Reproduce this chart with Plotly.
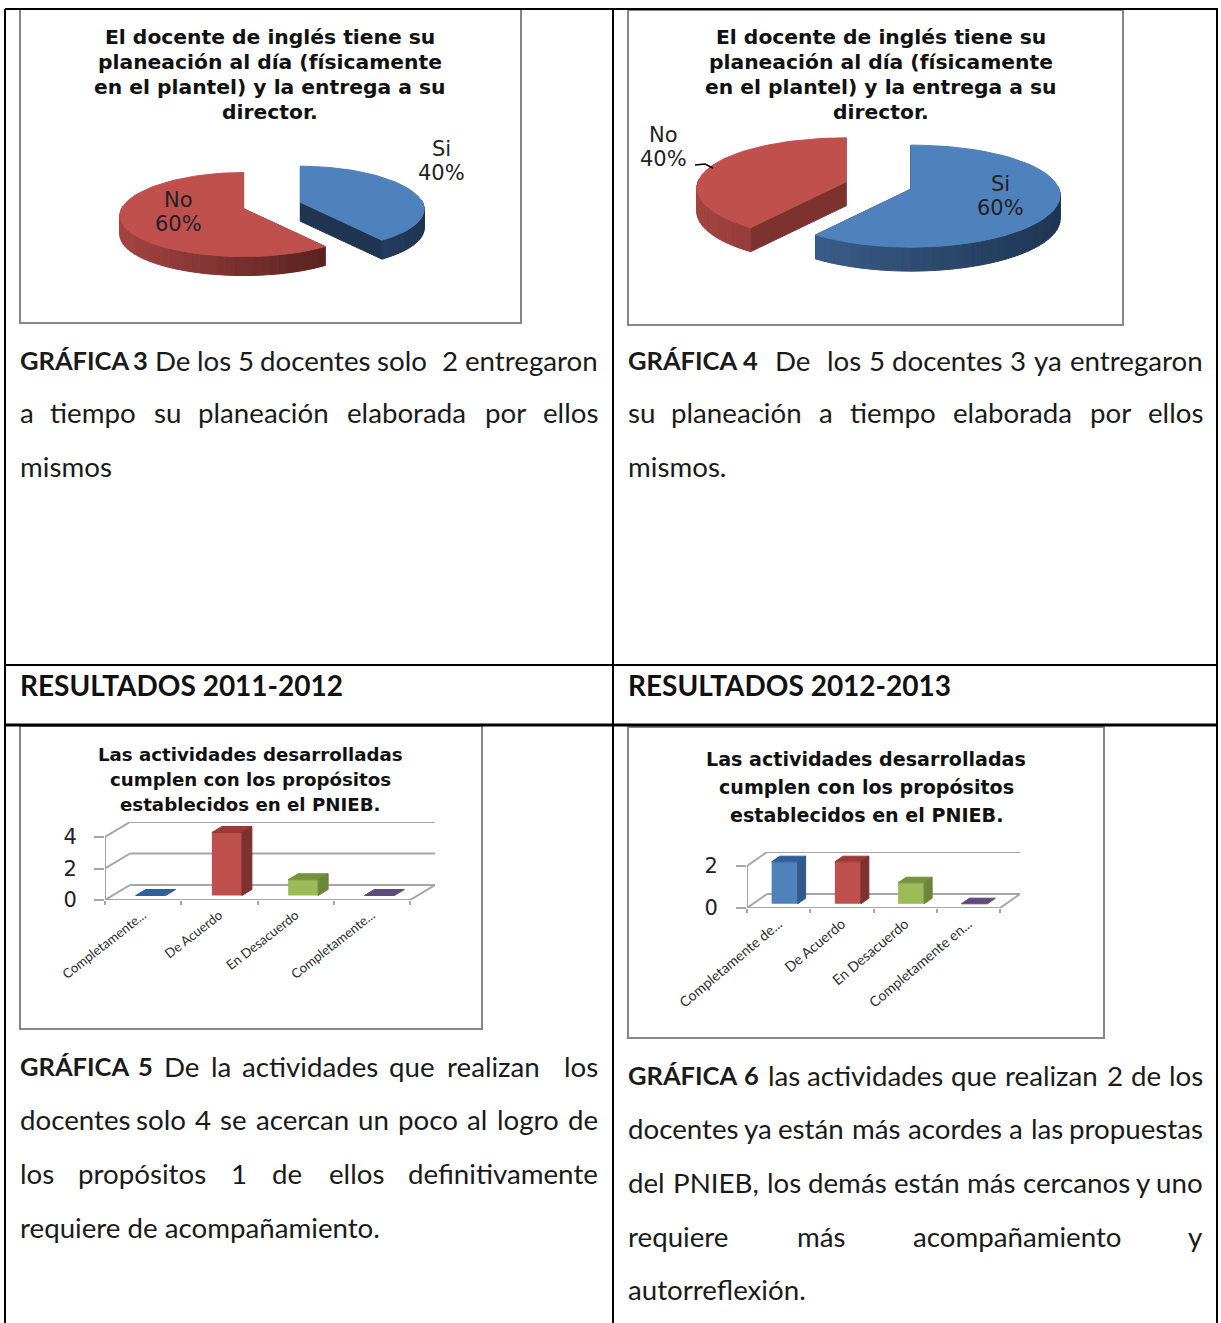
import math
import plotly.graph_objects as go

W, H = 1221, 1323

# pie data
pie_labels_3 = ["Si", "No"]
pie_values_3 = [40, 60]
pie_labels_4 = ["Si", "No"]
pie_values_4 = [60, 40]

# bar data
bar_categories_5 = ["Completamente...", "De Acuerdo", "En Desacuerdo", "Completamente..."]
bar_values_5 = [0, 4, 1, 0]
bar_ticks_5 = [0, 2, 4]
bar_categories_6 = ["Completamente de...", "De Acuerdo", "En Desacuerdo", "Completamente en..."]
bar_values_6 = [2, 2, 1, 0]
bar_ticks_6 = [0, 2]

# document text
title_pie = ["El docente de inglés tiene su", "planeación al día (físicamente",
             "en el plantel) y la entrega a su", "director."]
title_bar = ["Las actividades desarrolladas", "cumplen con los propósitos",
             "establecidos en el PNIEB."]
header_left = "RESULTADOS 2011-2012"
header_right = "RESULTADOS 2012-2013"
text_3 = ["GRÁFICA 3 De los 5 docentes solo  2 entregaron",
          "a tiempo su planeación elaborada por ellos", "mismos"]
text_4 = ["GRÁFICA 4  De  los 5 docentes 3 ya entregaron",
          "su planeación a tiempo elaborada por ellos", "mismos."]
text_5 = ["GRÁFICA 5 De la actividades que realizan  los",
          "docentes solo 4 se acercan un poco al logro de",
          "los propósitos 1 de ellos definitivamente",
          "requiere de acompañamiento."]
text_6 = ["GRÁFICA 6 las actividades que realizan 2 de los",
          "docentes ya están más acordes a las propuestas",
          "del PNIEB, los demás están más cercanos y uno",
          "requiere más acompañamiento y", "autorreflexión."]

BLUE = ("#4F81BD", "#3F6594", "#1F3552")
RED = ("#C0504D", "#A34442", "#4A1B19")
BAR_FRONT = ["#4F81BD", "#C0504D", "#9BBB59", "#8064A2"]
BAR_TOP = ["#2F6099", "#9C3A37", "#76923C", "#604A7B"]
BAR_SIDE = ["#2F5A8C", "#7D322F", "#6B8539", "#4F3D66"]
FRAME = "#868686"
GRID = "#A6A6A6"
BODY_SIZE = 27.7
BOLD_SIZE = 25.5

CALIBRI = dict(a=.479, b=.525, c=.423, d=.525, e=.498, f=.305, g=.471, h=.525, i=.229, j=.239,
               k=.455, l=.229, m=.799, n=.525, o=.527, p=.525, q=.525, r=.349, s=.391, t=.335,
               u=.525, v=.452, w=.715, x=.433, y=.453, z=.395, A=.606, B=.561, C=.529, D=.630,
               E=.488, F=.459, G=.637, H=.631, I=.267, N=.659, P=.532, R=.563)
ACCENTS = str.maketrans("áéíóúñÁ", "aeiounA")


def px(x):
    return x / W


def py(y):
    return 1 - y / H


fig = go.Figure()
annotations = []
shapes = []
axes = {}


def label(text, x, y, size, family="Lato", color="#1a1a1a", bold=False, xanchor="center"):
    annotations.append(dict(text=text, x=px(x), y=py(y), xref="paper", yref="paper", showarrow=False,
                            xanchor=xanchor, yanchor="middle", align="center", borderpad=0,
                            font=dict(family=family, size=size, color=color,
                                      weight="bold" if bold else "normal")))


def word_width(word, em=29.2):
    w = sum(CALIBRI.get(c, .507) for c in word.translate(ACCENTS))
    return w * em


def body_text(lines, ys, x0, x1):
    for i, (line, y) in enumerate(zip(lines, ys)):
        y -= 1
        if i == len(lines) - 1:
            label(line, x0, y, BODY_SIZE, xanchor="left")
            continue
        words = line.split(" ")
        widths = [word_width(w) for w in words]
        gap = (x1 - x0 - sum(widths)) / (len(words) - 1)
        x = x0
        for j, (w, ww) in enumerate(zip(words, widths)):
            if w:
                bold = line.startswith("GRÁFICA") and j < 2
                size = BOLD_SIZE if bold else BODY_SIZE
                if j == 0:
                    label(w, x0, y, size, bold=bold, xanchor="left")
                elif j == len(words) - 1:
                    label(w, x1, y, size, bold=bold, xanchor="right")
                else:
                    label(w, x + ww / 2, y, size, bold=bold)
            x += ww + gap


def frame(x0, y0, x1, y1):
    shapes.append(dict(type="rect", xref="paper", yref="paper", x0=px(x0), x1=px(x1), y0=py(y0), y1=py(y1),
                       line=dict(color=FRAME, width=2), fillcolor="white", layer="below"))


def rule(x0, y0, x1, y1, width=2):
    shapes.append(dict(type="line", xref="paper", yref="paper", x0=px(x0), x1=px(x1), y0=py(y0), y1=py(y1),
                       line=dict(color="black", width=width), layer="above"))


def new_axes(n, x0, x1, y0, y1, xrange, yrange):
    axes[f"xaxis{n}"] = dict(domain=[px(x0), px(x1)], range=xrange, anchor=f"y{n}", showgrid=False, automargin=False,
                             zeroline=False, showticklabels=False, showline=False, ticks="", fixedrange=True)
    axes[f"yaxis{n}"] = dict(domain=[py(y1), py(y0)], range=yrange, anchor=f"x{n}", showgrid=False, automargin=False,
                             zeroline=False, showticklabels=False, showline=False, ticks="", fixedrange=True)


def poly(n, xs, ys, color):
    fig.add_trace(go.Scatter(x=xs + xs[:1], y=ys + ys[:1], xaxis=f"x{n}", yaxis=f"y{n}", mode="lines", fill="toself",
                             fillcolor=color, line=dict(color=color, width=1), hoverinfo="skip",
                             showlegend=False, cliponaxis=False))


def mix(c1, c2, t):
    a = [int(c1[i:i + 2], 16) for i in (1, 3, 5)]
    b = [int(c2[i:i + 2], 16) for i in (1, 3, 5)]
    return "#%02X%02X%02X" % tuple(round(p + (q - p) * t) for p, q in zip(a, b))


def pie_3d(n, values, colors, box, center, a, b, kx, ky, depth, explode, cut_colors):
    # unit ellipse on axes whose range gives it its oblique shape
    x0, y0, x1, y1 = box
    cx, cy = center
    new_axes(n, x0, x1, y0, y1, [(x0 - cx) / a, (x1 - cx) / a], [(cy - y1) / b, (cy - y0) / b])
    d = depth / b

    def pt(t):
        s, c = math.sin(t), math.cos(t)
        return s * (1 - kx * c), c * (1 - ky * c)

    total = sum(values)
    start = 0.0
    for v, col, cut in zip(values, colors, cut_colors):
        sweep = 2 * math.pi * v / total
        end = start + sweep
        mid = start + sweep / 2
        ox, oy = explode * math.sin(mid), explode * math.cos(mid)
        steps = [start + sweep * i / 60 for i in range(61)]
        arc = [pt(t) for t in steps]
        # cut faces
        for t in (start, end):
            ex, ey = pt(t)
            poly(n, [ox, ox + ex, ox + ex, ox], [oy, oy + ey, oy + ey - d, oy - d], cut)
        # rim, shaded left to right
        for i in range(60):
            t0, t1 = steps[i], steps[i + 1]
            if math.cos((t0 + t1) / 2) > 0.05:
                continue
            (xa, ya), (xb, yb) = arc[i], arc[i + 1]
            shade = min(1, max(0, ((xa + xb) / 2 + 1) / 2))
            poly(n, [ox + xa, ox + xb, ox + xb, ox + xa], [oy + ya, oy + yb, oy + yb - d, oy + ya - d],
                 mix(col[1], col[2], shade))
        poly(n, [ox] + [ox + p[0] for p in arc], [oy] + [oy + p[1] for p in arc], col[0])
        start = end


def bars_3d(n, categories, values, ticks, x0, x1, y0, unit, dpx, dpy, width, tick_size, angle, y_standoff):
    # x0/x1 front axis in pixels, y0 front zero, unit pixels per value, dpx/dpy wall depth
    cat = (x1 - x0) / len(values)
    dx, dy = dpx / cat, dpy / unit
    top = max(ticks)
    xrange, yrange = [0, len(values) + dx], [0, top + dy]
    new_axes(n, x0, x1 + dpx, y0 - (top * unit + dpy), y0, xrange, yrange)
    axes[f"xaxis{n}"].update(showticklabels=True, tickmode="array",
                             tickvals=[i + .5 for i in range(len(values))], ticktext=categories, tickangle=angle,
                             tickfont=dict(family="Lato", size=tick_size, color="#2F2F2F"), ticks="",
                             ticklabelstandoff=4,
                             minor=dict(tickmode="array", tickvals=list(range(len(values) + 1)), ticks="outside",
                                        ticklen=4, tickcolor=GRID, tickwidth=2))
    axes[f"yaxis{n}"].update(showticklabels=True, tickmode="array", tickvals=ticks, ticks="outside", ticklen=10,
                             tickcolor=GRID, tickwidth=2, ticklabelstandoff=y_standoff,
                             tickfont=dict(family="DejaVu Sans", size=21, color="#222222"))
    walls = [([0, dx], [t, t + dy]) for t in ticks]
    walls += [([dx, len(values) + dx], [t + dy, t + dy]) for t in ticks]
    walls += [([0, 0], [0, top]), ([0, len(values)], [0, 0]), ([len(values), len(values) + dx], [0, dy])]
    for xs, ys in walls:
        fig.add_trace(go.Scatter(x=xs, y=ys, xaxis=f"x{n}", yaxis=f"y{n}", mode="lines", hoverinfo="skip",
                                 line=dict(color=GRID, width=2), showlegend=False, cliponaxis=False))
    # bars sit on an overlaying pair of axes so the walls stay behind them
    m = n + 10
    new_axes(m, x0, x1 + dpx, y0 - (top * unit + dpy), y0, xrange, yrange)
    axes[f"xaxis{m}"]["overlaying"] = f"x{n}"
    axes[f"yaxis{m}"]["overlaying"] = f"y{n}"
    fx, fy = dx * .3, dy * .3
    sx, sy = dx * .4, dy * .4
    centers = [i + .5 + fx for i in range(len(values))]
    fig.add_trace(go.Bar(x=centers, y=values, base=[fy] * len(values), width=width / cat, xaxis=f"x{m}", yaxis=f"y{m}",
                         marker=dict(color=BAR_FRONT, line=dict(width=0)), showlegend=False, cliponaxis=False))
    hw = width / cat / 2
    for c, v, t_col, s_col in zip(centers, values, BAR_TOP, BAR_SIDE):
        poly(m, [c - hw, c + hw, c + hw + sx, c - hw + sx], [fy + v, fy + v, fy + v + sy, fy + v + sy], t_col)
        if v > 0:
            poly(m, [c + hw, c + hw + sx, c + hw + sx, c + hw], [fy, fy + sy, fy + v + sy, fy + v], s_col)


# frames go under everything
frame(20, 9, 521, 323)
frame(628, 10, 1123, 325)
frame(20, 726, 482, 1029)
frame(628, 727, 1104, 1038)

pie_3d(1, pie_values_3, [BLUE, RED], (21, 10, 520, 322), (272, 205.5), 122, 42, .17, .14, 19, .245,
       ["#1F3552", "#8A3A38"])
pie_3d(2, pie_values_4, [BLUE, RED], (629, 11, 1122, 324), (878.5, 185.5), 148, 51, .12, .137, 24, .231,
       ["#1F3552", "#7D3230"])

bars_3d(3, bar_categories_5, bar_values_5, bar_ticks_5, 105, 410, 900, 15.75, 25, 15, 30, 13.2, -38, 13)
bars_3d(4, bar_categories_6, bar_values_6, bar_ticks_6, 747, 1000, 908, 21, 20, 14, 26, 14.2, -40, 14)

# pie labels
PIE_LABEL = dict(size=21, family="DejaVu Sans", color="#222222")
label(pie_labels_3[0], 441, 149, **PIE_LABEL)
label(f"{pie_values_3[0]}%", 441, 173, **PIE_LABEL)
label(pie_labels_3[1], 178, 200, **PIE_LABEL)
label(f"{pie_values_3[1]}%", 178, 224, **PIE_LABEL)
label(pie_labels_4[0], 1000, 184, **PIE_LABEL)
label(f"{pie_values_4[0]}%", 1000, 208, **PIE_LABEL)
label(pie_labels_4[1], 664, 135, **PIE_LABEL)
label(f"{pie_values_4[1]}%", 664, 159, **PIE_LABEL)
shapes.append(dict(type="path", xref="paper", yref="paper",
                   path=f"M {px(695)} {py(165)} L {px(705)} {py(164)} L {px(713)} {py(168)}",
                   line=dict(color="black", width=1.5)))

# chart titles
for line, y in zip(title_pie, [37, 62, 87, 112]):
    label(line, 270, y, 20.3, "DejaVu Sans", "#111111", bold=True)
for line, y in zip(title_pie, [37, 62, 87, 112]):
    label(line, 881, y, 20.3, "DejaVu Sans", "#111111", bold=True)
for line, y in zip(title_bar, [754, 779, 804]):
    label(line, 250, y, 18.2, "DejaVu Sans", "#111111", bold=True)
for line, y in zip(title_bar, [759, 787, 815]):
    label(line, 866, y, 19.1, "DejaVu Sans", "#111111", bold=True)

# body text
body_text(text_3, [361, 414, 468], 18.5, 598.5)
body_text(text_4, [361, 414, 468], 627.5, 1203.5)
body_text(text_5, [1067, 1120, 1174, 1228], 18.5, 598.5)
body_text(text_6, [1076, 1129, 1183, 1237, 1290], 627.5, 1203.5)
label(header_left, 18.5, 685, 28, color="#111111", bold=True, xanchor="left")
label(header_right, 627.5, 685, 28, color="#111111", bold=True, xanchor="left")

# table rules
rule(5, 9, 1218, 9)
rule(5, 665, 1218, 665)
rule(5, 725, 1218, 725, 3)
rule(5, 9, 5, H)
rule(613, 9, 613, H)
rule(1217, 9, 1217, H)

fig.update_layout(width=W, height=H, margin=dict(l=0, r=0, t=0, b=0, pad=0), paper_bgcolor="white",
                  plot_bgcolor="rgba(0,0,0,0)", barmode="overlay", showlegend=False, annotations=annotations,
                  shapes=shapes, **axes)
fig.write_html("out.html", config=dict(displayModeBar=False),
               post_script="document.body.style.margin='0';document.documentElement.style.overflow='hidden';")
